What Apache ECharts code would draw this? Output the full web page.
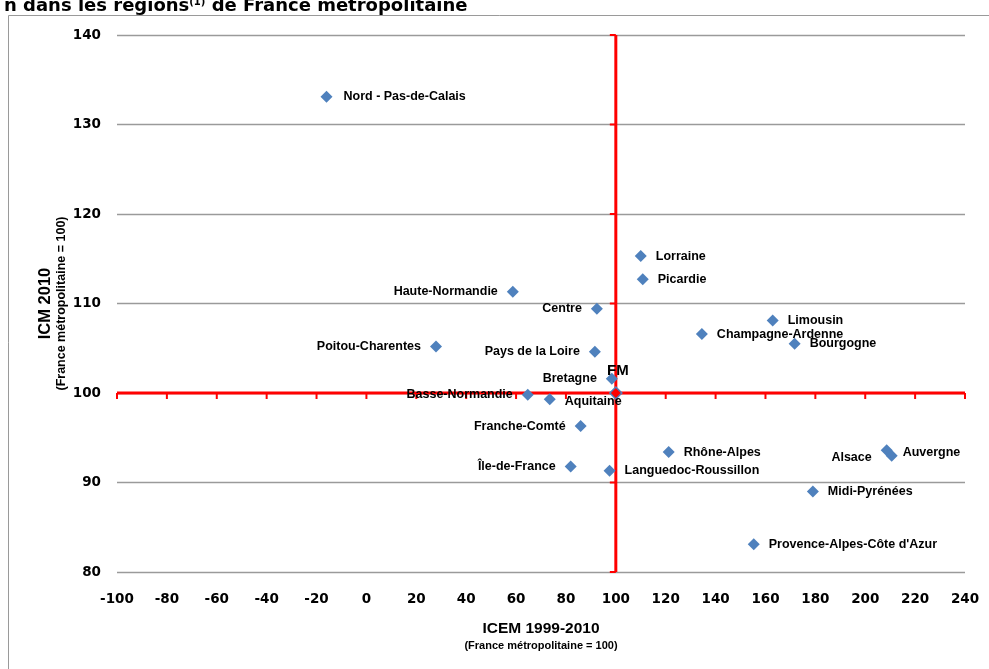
<!DOCTYPE html>
<html>
<head>
<meta charset="utf-8">
<script src="https://cdn.jsdelivr.net/npm/echarts@6/dist/echarts.min.js"></script>
<style>html,body{margin:0;padding:0;background:#fff;}#c{width:989px;height:669px;}</style>
</head>
<body>
<div id="c"></div>
<script>
// ---- data ----
const regions = ["Nord - Pas-de-Calais","Haute-Normandie","Centre","Poitou-Charentes","Pays de la Loire","Bretagne","Basse-Normandie","Aquitaine","Franche-Comté","Île-de-France","Languedoc-Roussillon","Rhône-Alpes","Lorraine","Picardie","Limousin","Champagne-Ardenne","Bourgogne","Alsace","Auvergne","Midi-Pyrénées","Provence-Alpes-Côte d'Azur"];
const icem = [-16, 58.7, 92.4, 27.9, 91.6, 98.4, 64.7, 73.5, 85.9, 81.9, 97.5, 121.2, 110, 110.8, 162.9, 134.5, 171.7, 208.6, 210.6, 179, 155.3];
const icm  = [133.1, 111.3, 109.4, 105.2, 104.6, 101.6, 99.8, 99.3, 96.3, 91.8, 91.3, 93.4, 115.3, 112.7, 108.1, 106.6, 105.5, 93.6, 93.0, 89.0, 83.1];
const fmName = "FM";
const fmPoint = [100, 100];
const xTicks = [-100,-80,-60,-40,-20,0,20,40,60,80,100,120,140,160,180,200,220,240];
const yTicks = [80,90,100,110,120,130,140];

// ---- label placement (style) ----
const leftLabels = ["Haute-Normandie","Centre","Poitou-Charentes","Pays de la Loire","Bretagne","Basse-Normandie","Franche-Comté","Île-de-France","Alsace"];
const labelShift = {"Alsace":[0,7],"Auvergne":[-4,-3],"Aquitaine":[0,2],"Nord - Pas-de-Calais":[2,0],"Champagne-Ardenne":[0,1]};

const LBL_FONT = "'Liberation Sans', Arial, sans-serif";
const TICK_FONT = "'DejaVu Sans', Verdana, sans-serif";

const pts = regions.map((n, i) => {
  const left = leftLabels.indexOf(n) >= 0;
  const sh = labelShift[n] || [0,0];
  return {
    name: n,
    value: [icem[i], icm[i]],
    label: { position: left ? 'left' : 'right', offset: sh }
  };
});
pts.push({
  name: fmName, value: fmPoint,
  itemStyle: { color: '#FF0000', borderColor: '#4F81BD', borderWidth: 1.5 },
  label: { position: 'top', distance: 8, offset: [2,0], fontSize: 15, fontFamily: LBL_FONT, fontWeight: 'bold', color: '#000' }
});

const chart = echarts.init(document.getElementById('c'), null, {renderer: 'canvas'});
chart.setOption({
  animation: false,
  backgroundColor: '#fff',
  title: {
    text: "n dans les régions{s|(1)} de France métropolitaine",
    left: -1, top: -8,
    textStyle: {
      fontFamily: TICK_FONT, fontWeight: 'bold', fontSize: 18, color: '#000',
      rich: { s: { fontFamily: TICK_FONT, fontWeight: 'bold', fontSize: 10, verticalAlign: 'top', padding: [0,0,9,0] } }
    }
  },
  graphic: [{
    type: 'rect', silent: true, z: -1,
    shape: { x: 8.5, y: 15.5, width: 1000, height: 700 },
    style: { fill: 'none', stroke: '#9a9a9a', lineWidth: 1 }
  }],
  grid: { left: 117, right: 24, top: 35, bottom: 97 },
  xAxis: {
    type: 'value', min: xTicks[0], max: xTicks[xTicks.length-1], interval: 20,
    axisLine: { show: false }, axisTick: { show: false }, splitLine: { show: false },
    axisLabel: { margin: 20, fontFamily: TICK_FONT, fontWeight: 'bold', fontSize: 13.5, color: '#000' },
    name: "{a|ICEM 1999-2010}\n{b|(France métropolitaine = 100)}",
    nameLocation: 'middle', nameGap: 47, nameMoveOverlap: false,
    nameTextStyle: {
      rich: {
        a: { fontFamily: LBL_FONT, fontWeight: 'bold', fontSize: 15.5, color: '#000', lineHeight: 19, align: 'center' },
        b: { fontFamily: LBL_FONT, fontWeight: 'bold', fontSize: 11, color: '#000', lineHeight: 15, align: 'center' }
      }
    }
  },
  yAxis: {
    type: 'value', min: yTicks[0], max: yTicks[yTicks.length-1], interval: 10,
    axisLine: { show: false }, axisTick: { show: false },
    splitLine: { show: true, lineStyle: { color: '#9a9a9a', width: 1.3 } },
    axisLabel: { margin: 16, fontFamily: TICK_FONT, fontWeight: 'bold', fontSize: 13.5, color: '#000' },
    name: "{a|ICM 2010}\n{b|(France métropolitaine = 100)}",
    nameLocation: 'middle', nameGap: 48, nameRotate: 90, nameMoveOverlap: false,
    nameTextStyle: {
      rich: {
        a: { fontFamily: LBL_FONT, fontWeight: 'bold', fontSize: 16.5, color: '#000', lineHeight: 17, align: 'center' },
        b: { fontFamily: LBL_FONT, fontWeight: 'bold', fontSize: 12.5, color: '#000', lineHeight: 15, align: 'center' }
      }
    }
  },
  series: [
    {
      type: 'custom', silent: true, z: 1,
      data: [fmPoint],
      renderItem: function (params, api) {
        const cx = api.value(0), cy = api.value(1);
        const xMin = xTicks[0], xMax = xTicks[xTicks.length-1];
        const yMin = yTicks[0], yMax = yTicks[yTicks.length-1];
        const a = api.coord([xMin, cy]), b = api.coord([xMax, cy]);
        const c = api.coord([cx, yMin]), d = api.coord([cx, yMax]);
        const st = { stroke: '#FF0000', lineWidth: 3 };
        const ch = [
          { type: 'line', shape: { x1: a[0], y1: a[1], x2: b[0], y2: b[1] }, style: st },
          { type: 'line', shape: { x1: c[0], y1: c[1], x2: d[0], y2: d[1] }, style: st }
        ];
        xTicks.forEach(t => {
          const p = api.coord([t, cy]);
          ch.push({ type: 'line', shape: { x1: p[0], y1: p[1], x2: p[0], y2: p[1] + 6 }, style: { stroke: '#FF0000', lineWidth: 2 } });
        });
        yTicks.forEach(t => {
          const p = api.coord([cx, t]);
          ch.push({ type: 'line', shape: { x1: p[0] - 6, y1: p[1], x2: p[0], y2: p[1] }, style: { stroke: '#FF0000', lineWidth: 2 } });
        });
        return { type: 'group', children: ch };
      }
    },
    {
      type: 'scatter', z: 3,
      symbol: 'diamond', symbolSize: 12,
      itemStyle: { color: '#4F81BD', opacity: 1 },
      label: {
        show: true, formatter: '{b}', distance: 9,
        fontFamily: LBL_FONT, fontWeight: 'bold', fontSize: 12.5, color: '#000'
      },
      data: pts
    }
  ]
});
</script>
</body>
</html>
